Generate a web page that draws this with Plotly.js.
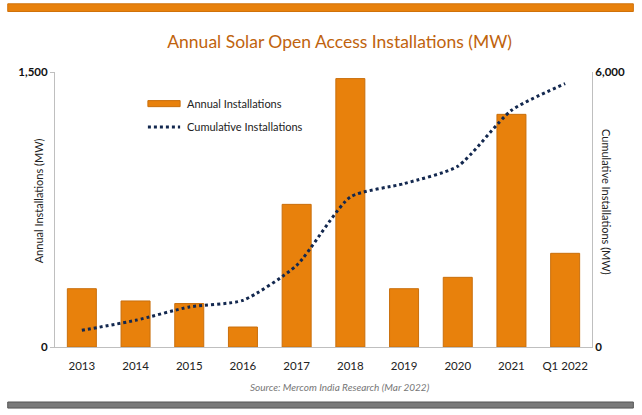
<!DOCTYPE html>
<html>
<head>
<meta charset="utf-8">
<script src="https://cdn.plot.ly/plotly-3.0.1.min.js"></script>
<style>html,body{margin:0;padding:0;background:#fff;}#chart{width:642px;height:415px;}</style>
</head>
<body>
<div id="chart"></div>
<script>
var categories = ["2013","2014","2015","2016","2017","2018","2019","2020","2021","Q1 2022"];
var annualInstallations = [318, 251, 237, 109, 778, 1464, 318, 380, 1269, 511];
var cumulativeInstallations = [364, 582, 873, 1018, 1782, 3273, 3564, 3942, 5164, 5746];
var leftTicks = [0, 1500];
var leftTickLabels = ["0", "1,500"];
var rightTicks = [0, 6000];
var rightTickLabels = ["0", "6,000"];

var FONT = "Lato, 'Open Sans', sans-serif";

var traces = [
  {
    type: "bar",
    name: "Annual Installations",
    x: categories,
    y: annualInstallations,
    marker: {color: "#E8810C", line: {color: "#C96F0C", width: 1}},
    width: 0.54,
    yaxis: "y",
    showlegend: false,
    hoverinfo: "x+y"
  },
  {
    type: "scatter",
    mode: "lines",
    name: "Cumulative Installations",
    x: categories,
    y: cumulativeInstallations,
    yaxis: "y2",
    line: {color: "#13284F", width: 3, dash: "dot", shape: "spline", smoothing: 0.6},
    showlegend: false
  }
];

var layout = {
  width: 642,
  height: 415,
  paper_bgcolor: "#ffffff",
  plot_bgcolor: "#ffffff",
  margin: {l: 55, r: 50, t: 72, b: 68},
  font: {family: FONT, color: "#222"},
  showlegend: false,
  title: {
    text: "Annual Solar Open Access Installations (MW)",
    font: {family: FONT, size: 17.5, color: "#C0630D"},
    x: 0.529, xanchor: "center", y: 0.9, yanchor: "middle", yref: "container"
  },
  bargap: 0.46,
  xaxis: {
    type: "category",
    showline: true, linecolor: "#BFBFBF", linewidth: 1,
    showgrid: false, zeroline: false,
    ticks: "", tickfont: {family: FONT, size: 11.5, color: "#222"},
    ticklabelstandoff: 8
  },
  yaxis: {
    range: [0, 1500], tickvals: leftTicks, ticktext: leftTickLabels,
    showline: true, linecolor: "#BFBFBF", linewidth: 1,
    showgrid: false, zeroline: false,
    ticks: "outside", ticklen: 4, tickcolor: "#BFBFBF",
    tickfont: {family: FONT, size: 11.5, color: "#111", weight: "bold"},
    fixedrange: true
  },
  yaxis2: {
    range: [0, 6000], tickvals: rightTicks, ticktext: rightTickLabels,
    overlaying: "y", side: "right",
    showline: true, linecolor: "#BFBFBF", linewidth: 1,
    showgrid: false, zeroline: false,
    ticks: "inside", ticklen: 4, tickcolor: "#BFBFBF",
    tickfont: {family: FONT, size: 11.5, color: "#111", weight: "bold"},
    fixedrange: true
  },
  shapes: [
    {type: "rect", xref: "paper", yref: "paper", x0: -0.088, x1: 1.077, y0: 1.248, y1: 1.22, fillcolor: "#E8810C", line: {color: "#D0720A", width: 1}},
    {type: "rect", xref: "paper", yref: "paper", x0: -0.088, x1: 1.077, y0: -0.2, y1: -0.222, fillcolor: "#7A7A7A", line: {color: "#555", width: 1}},
    {type: "rect", xref: "paper", yref: "paper", x0: 0.173, x1: 0.233, y0: 0.896, y1: 0.874, fillcolor: "#E8810C", line: {color: "#C96F0C", width: 1}},
    {type: "line", xref: "paper", yref: "paper", x0: 0.173, x1: 0.233, y0: 0.8, y1: 0.8, line: {color: "#13284F", width: 3, dash: "dot"}}
  ],
  annotations: [
    {xref: "paper", yref: "paper", x: 0.242, y: 0.885, xanchor: "left", yanchor: "middle", showarrow: false,
     text: "Annual Installations", font: {family: FONT, size: 11, color: "#222"}},
    {xref: "paper", yref: "paper", x: 0.242, y: 0.8, xanchor: "left", yanchor: "middle", showarrow: false,
     text: "Cumulative Installations", font: {family: FONT, size: 11, color: "#222"}},
    {xref: "paper", yref: "paper", x: 0.53, y: -0.145, xanchor: "center", yanchor: "middle", showarrow: false,
     text: "<i>Source: Mercom India Research (Mar 2022)</i>", font: {family: FONT, size: 10, color: "#777"}},
    {xref: "paper", yref: "paper", x: -0.03, y: 0.533, xanchor: "center", yanchor: "middle", showarrow: false, textangle: -90,
     text: "Annual Installations (MW)", font: {family: FONT, size: 11, color: "#222"}},
    {xref: "paper", yref: "paper", x: 1.028, y: 0.527, xanchor: "center", yanchor: "middle", showarrow: false, textangle: 90,
     text: "Cumulative Installations (MW)", font: {family: FONT, size: 11, color: "#222"}}
  ]
};

Plotly.newPlot("chart", traces, layout, {displayModeBar: false, staticPlot: true});
</script>
</body>
</html>
